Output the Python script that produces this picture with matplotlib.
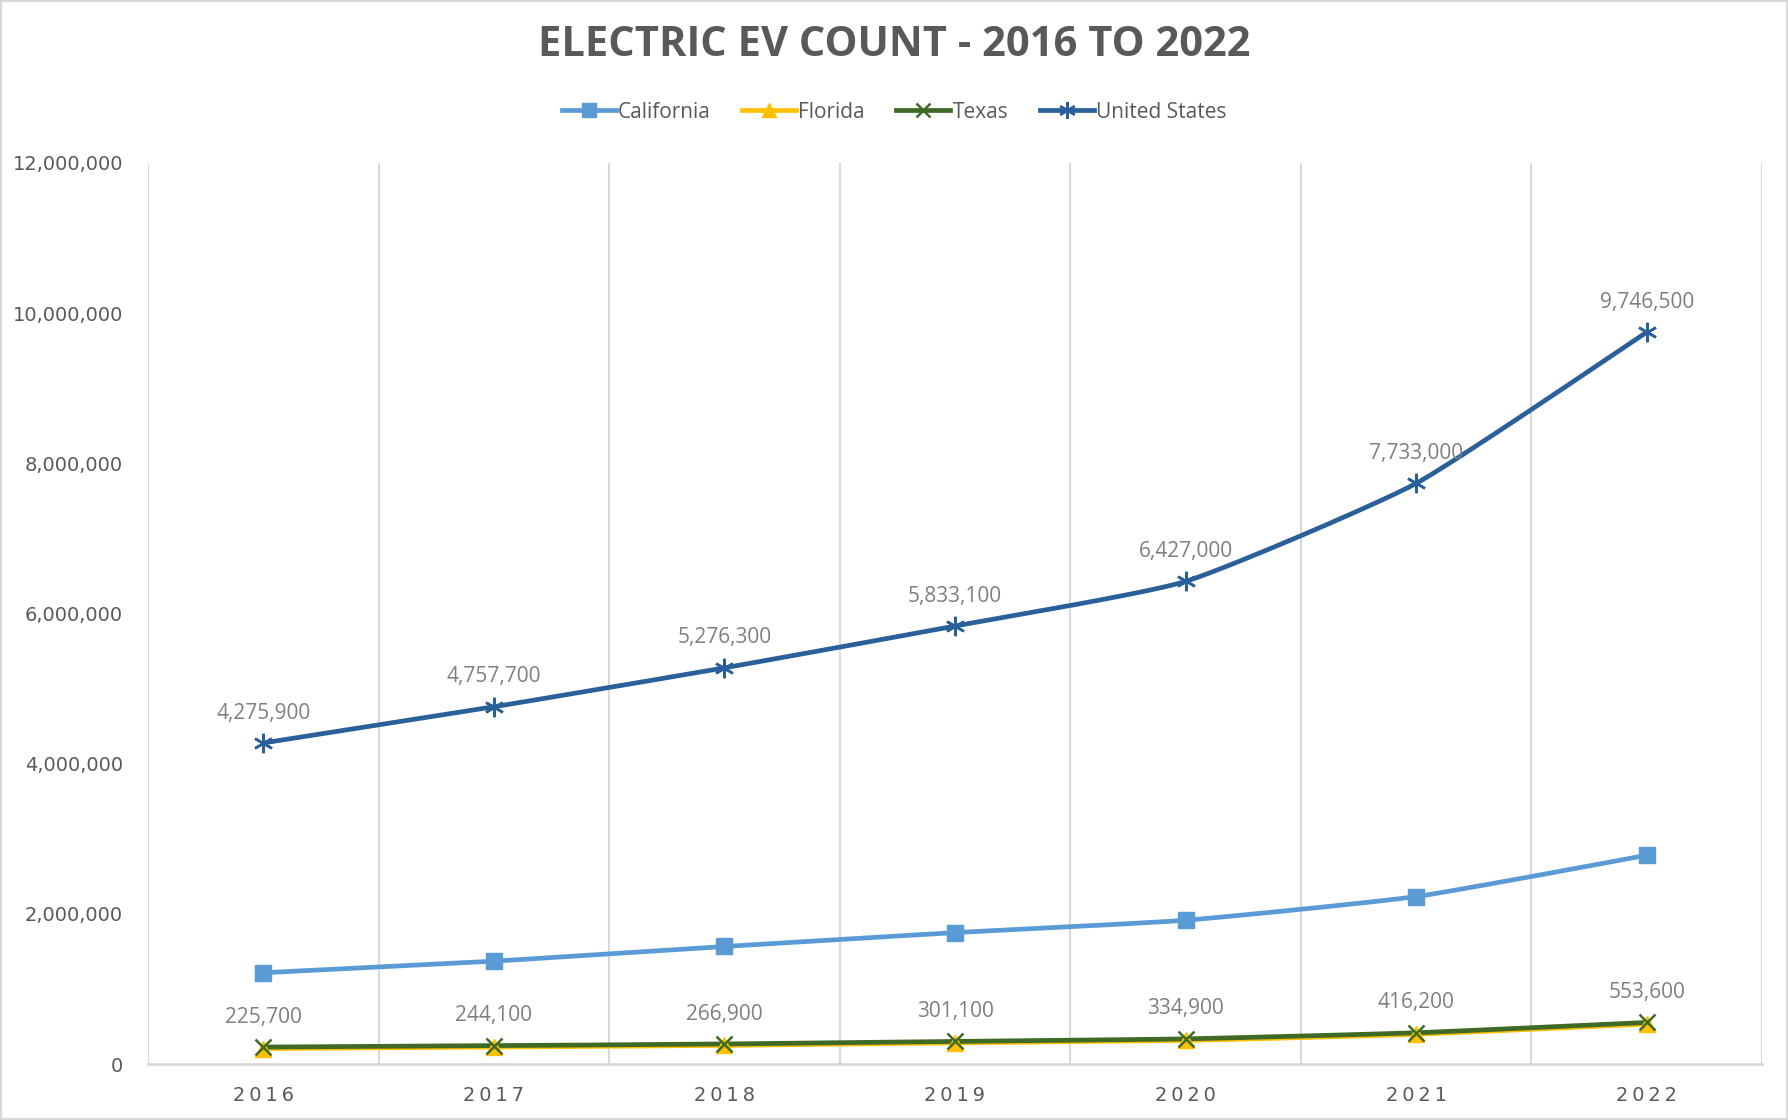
"""Electric EV count by state, 2016-2022, drawn as smoothed Excel-style lines."""

import matplotlib.pyplot as plt
import numpy as np
from matplotlib.lines import Line2D
from matplotlib.patches import Rectangle
from matplotlib.ticker import FuncFormatter

YEARS = ["2016", "2017", "2018", "2019", "2020", "2021", "2022"]
CALIFORNIA = [1215000, 1370000, 1565000, 1750000, 1915000, 2230000, 2780000]
FLORIDA = [205000, 225000, 248000, 282000, 314000, 396000, 532000]
TEXAS = [225700, 244100, 266900, 301100, 334900, 416200, 553600]
UNITED_STATES = [4275900, 4757700, 5276300, 5833100, 6427000, 7733000, 9746500]

SERIES = [
    ("California", CALIFORNIA, "#5B9BD5", "s", 12),
    ("Florida", FLORIDA, "#FFC000", "^", 12),
    ("Texas", TEXAS, "#3F6A26", "x", 12),
    ("United States", UNITED_STATES, "#2A6099", (6, 2, 0), 14),
]
LABELLED = {"Texas", "United States"}

TEXT_DARK = "#595959"
TEXT_LABEL = "#7F7F7F"
GRID = "#D9D9D9"
TENSION = 1 / 12


def smooth(x, y, n=30):
    """Bezier curve through the points, like Excel's smoothed line."""
    x = np.asarray(x, float)
    y = np.asarray(y, float)
    px = np.concatenate([[x[0]], x, [x[-1]]])
    py = np.concatenate([[y[0]], y, [y[-1]]])
    xs, ys = [], []
    t = np.linspace(0, 1, n)
    for i in range(len(x) - 1):
        p0 = np.array([x[i], y[i]])
        p3 = np.array([x[i + 1], y[i + 1]])
        p1 = p0 + (np.array([px[i + 2], py[i + 2]]) - np.array([px[i], py[i]])) * TENSION
        p2 = p3 - (np.array([px[i + 3], py[i + 3]]) - np.array([px[i + 1], py[i + 1]])) * TENSION
        pts = ((1 - t) ** 3)[:, None] * p0 + (3 * (1 - t) ** 2 * t)[:, None] * p1 \
            + (3 * (1 - t) * t ** 2)[:, None] * p2 + (t ** 3)[:, None] * p3
        xs.extend(pts[:, 0])
        ys.extend(pts[:, 1])
    return np.array(xs), np.array(ys)


fig = plt.figure(figsize=(17.88, 11.2), dpi=100)
fig.patches.append(Rectangle((0.0005, 0.0005), 0.999, 0.999, transform=fig.transFigure,
                             fill=False, edgecolor=GRID, linewidth=1.5))
ax = fig.add_axes([148 / 1788, 1 - 1064 / 1120, (1762 - 148) / 1788, (1064 - 163) / 1120])

x = np.arange(len(YEARS))
for name, values, color, marker, ms in SERIES:
    sx, sy = smooth(x, values)
    ax.plot(sx, sy, color=color, linewidth=3.4, solid_capstyle="round", zorder=3)
    if marker == "x" or isinstance(marker, tuple):
        ax.plot(x, values, linestyle="none", marker=marker, markersize=ms,
                markeredgecolor=color, markeredgewidth=1.8, zorder=4)
    else:
        ax.plot(x, values, linestyle="none", marker=marker, markersize=ms,
                color=color, markeredgecolor=color, zorder=4)
    if name in LABELLED:
        for xi, v in zip(x, values):
            ax.annotate(f"{v:,}", (xi, v), xytext=(0, 14), textcoords="offset points",
                        ha="center", va="bottom", fontsize=15, color=TEXT_LABEL,
                        family="Open Sans", zorder=5)

ax.set_xlim(-0.5, len(YEARS) - 0.5)
ax.set_ylim(0, 12000000)
ax.set_yticks(np.arange(0, 12000001, 2000000))
ax.yaxis.set_major_formatter(FuncFormatter(lambda v, _: f"{int(v):,}"))
ax.set_xticks(x)
ax.set_xticklabels(["\u2009".join(y) for y in YEARS])

# vertical separators between categories
for b in np.arange(-0.5, len(YEARS), 1.0):
    ax.axvline(b, color=GRID, linewidth=1.5, zorder=1)

for side in ("top", "right", "left"):
    ax.spines[side].set_visible(False)
ax.spines["bottom"].set_color(GRID)
ax.spines["bottom"].set_linewidth(2)
ax.tick_params(axis="both", length=0)
ax.tick_params(axis="y", pad=18, labelsize=14, labelcolor=TEXT_DARK)
ax.tick_params(axis="x", pad=16, labelsize=14, labelcolor=TEXT_DARK)
for lab in ax.get_yticklabels() + ax.get_xticklabels():
    lab.set_family("DejaVu Sans")

fig.text(0.5, 1 - 46 / 1120, "ELECTRIC EV COUNT - 2016 TO 2022",
         ha="center", va="center", fontsize=30, fontweight="bold", color=TEXT_DARK,
         family="Open Sans")

handles = []
for name, values, color, marker, ms in SERIES:
    if marker == "x" or isinstance(marker, tuple):
        h = Line2D([], [], color=color, linewidth=3.4, marker=marker, markersize=ms - 2,
                   markeredgecolor=color, markeredgewidth=1.8)
    else:
        h = Line2D([], [], color=color, linewidth=3.4, marker=marker, markersize=ms - 2,
                   markeredgecolor=color, markerfacecolor=color)
    handles.append(h)
leg = fig.legend(handles, [s[0] for s in SERIES], loc="center",
                 bbox_to_anchor=(0.5, 1 - 112 / 1120), ncol=4, frameon=False,
                 handlelength=2.6, handletextpad=0.1, columnspacing=1.5,
                 prop={"family": "Open Sans", "size": 15})
for t in leg.get_texts():
    t.set_color(TEXT_DARK)

fig.savefig("out.png", dpi=100)
